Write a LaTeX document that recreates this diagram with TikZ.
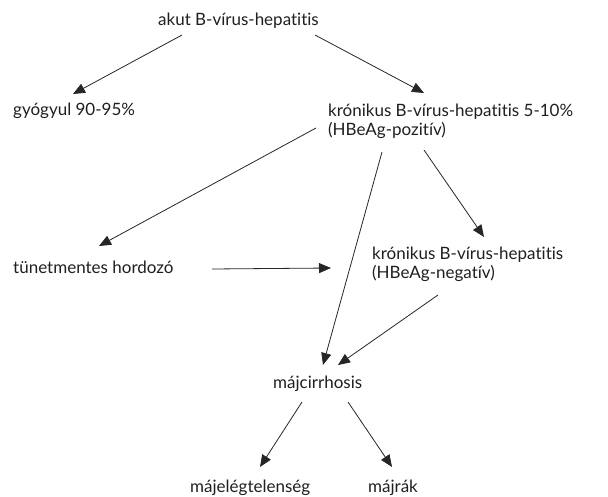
\documentclass[tikz,border=0pt]{standalone}
\usepackage{fontspec}
\setmainfont[Ligatures={NoCommon}]{Lato}
\usetikzlibrary{arrows.meta,calc}
\begin{document}
\begin{tikzpicture}[x=1pt,y=-1pt,
  lbl/.style={anchor=base west,inner sep=0pt,text=black!88,font=\fontsize{17}{19}\selectfont},
  arr/.style={draw=black!85,line width=0.8pt,-{Triangle[length=12pt,width=10pt]}}]
\useasboundingbox (0,0) rectangle (608,497);
\node[lbl] (akut) at (158,26) {akut B-vírus-hepatitis};
\node[lbl] (gy) at (13,116) {gyógyul 90-95\%};
\node[lbl] (kp1) at (328,117) {krónikus B-vírus-hepatitis 5-10\%};
\node[lbl] (kp2) at (328,136) {(HBeAg-pozitív)};
\node[lbl] (tu) at (13,273) {tünetmentes hordozó};
\node[lbl] (kn1) at (372,260) {krónikus B-vírus-hepatitis};
\node[lbl] (kn2) at (372,279) {(HBeAg-negatív)};
\node[lbl] (mc) at (273,388) {májcirrhosis};
\node[lbl] (me) at (190,492) {májelégtelenség};
\node[lbl] (mr) at (368,492) {májrák};
% arrows
\draw[arr] ($(akut.base west)+(24,9)$) -- ($(gy.base west)+(60,-22)$);
\draw[arr] ($(akut.base west)+(157,9)$) -- ($(kp1.base west)+(96,-24)$);
\draw[arr] ($(kp2.base west)+(-12,-8)$) -- ($(tu.base west)+(86,-27)$);
\draw[arr] ($(kp2.base west)+(54,16)$) -- ($(mc.base west)+(50,-23)$);
\draw[arr] ($(kp2.base west)+(96,14)$) -- ($(kn1.base west)+(112,-23)$);
\draw[arr] ($(tu.base west)+(199,-4)$) -- ($(kn1.base west)+(-41,8)$);
\draw[arr] ($(kn2.base west)+(66,16)$) -- ($(mc.base west)+(65,-23)$);
\draw[arr] ($(mc.base west)+(29,14)$) -- ($(me.base west)+(70,-25)$);
\draw[arr] ($(mc.base west)+(75,14)$) -- ($(mr.base west)+(24,-25)$);
\end{tikzpicture}
\end{document}
